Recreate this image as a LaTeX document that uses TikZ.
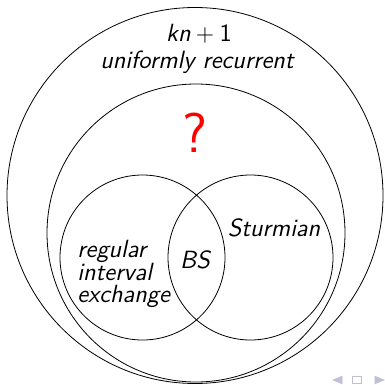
\documentclass[tikz,border=0pt]{standalone}
\usepackage{tikz}
\usetikzlibrary{shapes.geometric, positioning, calc}

\newcommand{\px}{0.0175cm}

\begin{document}
\begin{tikzpicture}[
    x=\px, y=-\px,
    set/.style={circle, draw, inner sep=0pt},
    label/.style={font=\fontsize{12.4}{11.2}\selectfont\sffamily\itshape, inner sep=0pt},
    nav/.style={draw=blue!25!gray!40, fill=blue!25!gray!40, line width=0.4pt}
]
\useasboundingbox (0,0) rectangle (384,385);
% the four sets
\node[set, minimum size=376*\px] (uniform) at (195,195.5) {};
\node[set, minimum size=298*\px] (kn) at (196,233) {};
\node[set, minimum size=165*\px] (iet) at (142.5,257.5) {};
\node[set, minimum size=165*\px] (sturm) at (250.5,257.5) {};
% labels
\node[label] (knlabel) at (199,34) {\textit{kn}${}+{}$\upshape 1};
\node[label] (urlabel) at (197,62) {uniformly recurrent};
\node[font=\fontsize{28}{30}\selectfont\sffamily, text=red, inner sep=0pt] (question) at (195,133) {?};
\node[label] (sturmlabel) at (274,228) {Sturmian};
\node[label] (bslabel) at (195,260) {BS};
\node[label, align=left, anchor=west] (ietlabel) at (77,274) {regular\\interval\\exchange};
% navigation symbols
\node[nav, isosceles triangle, shape border rotate=180, minimum size=3*\px, inner sep=1pt] (navleft) at (340,380) {};
\node[draw=blue!25!gray!40, rectangle, minimum width=9*\px, minimum height=7*\px, inner sep=0pt] (navbox) at (357,380) {};
\node[nav, isosceles triangle, minimum size=3*\px, inner sep=1pt] (navright) at (377,380) {};
\end{tikzpicture}
\end{document}
